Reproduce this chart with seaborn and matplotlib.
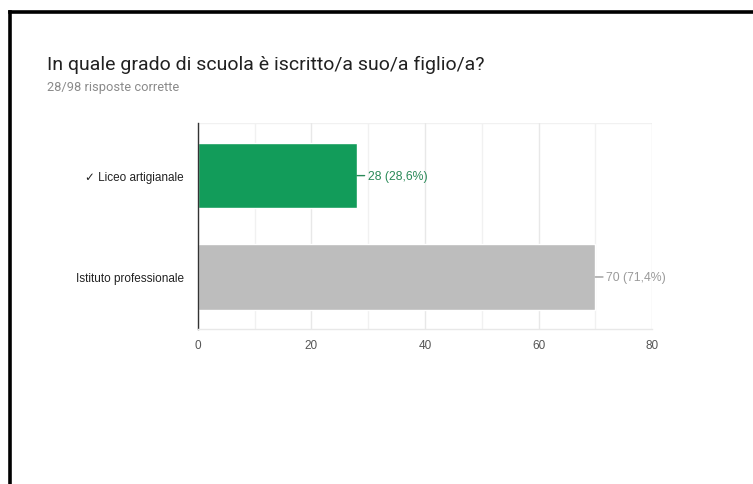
import matplotlib
matplotlib.use("Agg")
import matplotlib.pyplot as plt
from matplotlib.lines import Line2D
import seaborn as sns
import pandas as pd

# Survey answers
categories = ["✓ Liceo artigianale", "Istituto professionale"]
counts = [28, 70]
total_answers = 98
correct_answers = 28
bar_colors = ["#129c5a", "#bdbdbd"]
label_colors = ["#2a8a58", "#9a9a9a"]
x_ticks = [0, 20, 40, 60, 80]

title = "In quale grado di scuola è iscritto/a suo/a figlio/a?"
subtitle = f"{correct_answers}/{total_answers} risposte corrette"

sns.set_theme(style="white")
chart_font = ["Liberation Sans", "DejaVu Sans"]
plt.rcParams["font.family"] = chart_font

df = pd.DataFrame({"categoria": categories, "risposte": counts})

fig = plt.figure(figsize=(7.53, 4.85), dpi=100)
fig.patch.set_facecolor("white")

ax = fig.add_axes([0.2629, 0.3196, 0.6030, 0.4237])
sns.barplot(data=df, y="categoria", x="risposte", hue="categoria",
            palette=bar_colors, orient="h", width=0.645, legend=False,
            saturation=1, ax=ax)

ax.set_xlim(0, 80)
ax.set_ylim(1.513, -0.514)
ax.set_xticks(x_ticks)
ax.set_xticks([10, 30, 50, 70], minor=True)
ax.grid(axis="x", which="major", color="#e8e8e8", linewidth=1)
ax.grid(axis="x", which="minor", color="#f1f1f1", linewidth=1)
ax.grid(axis="y", visible=False)
ax.set_axisbelow(True)
ax.set_xlabel("")
ax.set_ylabel("")

for side in ["top", "right"]:
    ax.spines[side].set_visible(False)
ax.spines["left"].set_color("#333333")
ax.spines["left"].set_linewidth(1)
ax.spines["bottom"].set_color("#e8e8e8")
ax.spines["bottom"].set_linewidth(1)
ax.axhline(-0.514, color="#f1f1f1", linewidth=1, zorder=0)

ax.tick_params(axis="x", which="both", length=0, pad=7, labelsize=8.5,
               labelcolor="#555555")
ax.tick_params(axis="y", length=0, pad=10, labelsize=8.5, labelcolor="#222222")

# value labels with a short leader line
for i, (v, c) in enumerate(zip(counts, label_colors)):
    pct = f"{v / total_answers * 100:.1f}".replace(".", ",")
    ax.annotate(f"{v} ({pct}%)", xy=(v, i), xytext=(11, 0),
                textcoords="offset pixels", va="center", ha="left",
                fontsize=8.8, color=c,
                arrowprops=dict(arrowstyle="-", color=c, lw=1,
                                shrinkA=0, shrinkB=0))

fig.text(47 / 753, 1 - 65 / 485, title, fontsize=14, color="#212121",
         va="center", ha="left", family=["Roboto", "DejaVu Sans"])
fig.text(47 / 753, 1 - 88 / 485, subtitle, fontsize=9.3, color="#8a8a8a",
         va="center", ha="left", family=["Roboto", "DejaVu Sans"])

# frame lines along the left and top edges
fig.add_artist(Line2D([9.5 / 753, 9.5 / 753], [0, 1 - 12.5 / 485],
                      transform=fig.transFigure, color="black", lw=2.6,
                      solid_capstyle="projecting"))
fig.add_artist(Line2D([9.5 / 753, 1], [1 - 12.5 / 485, 1 - 12.5 / 485],
                      transform=fig.transFigure, color="black", lw=2.6,
                      solid_capstyle="projecting"))

fig.savefig("out.png", dpi=100)
